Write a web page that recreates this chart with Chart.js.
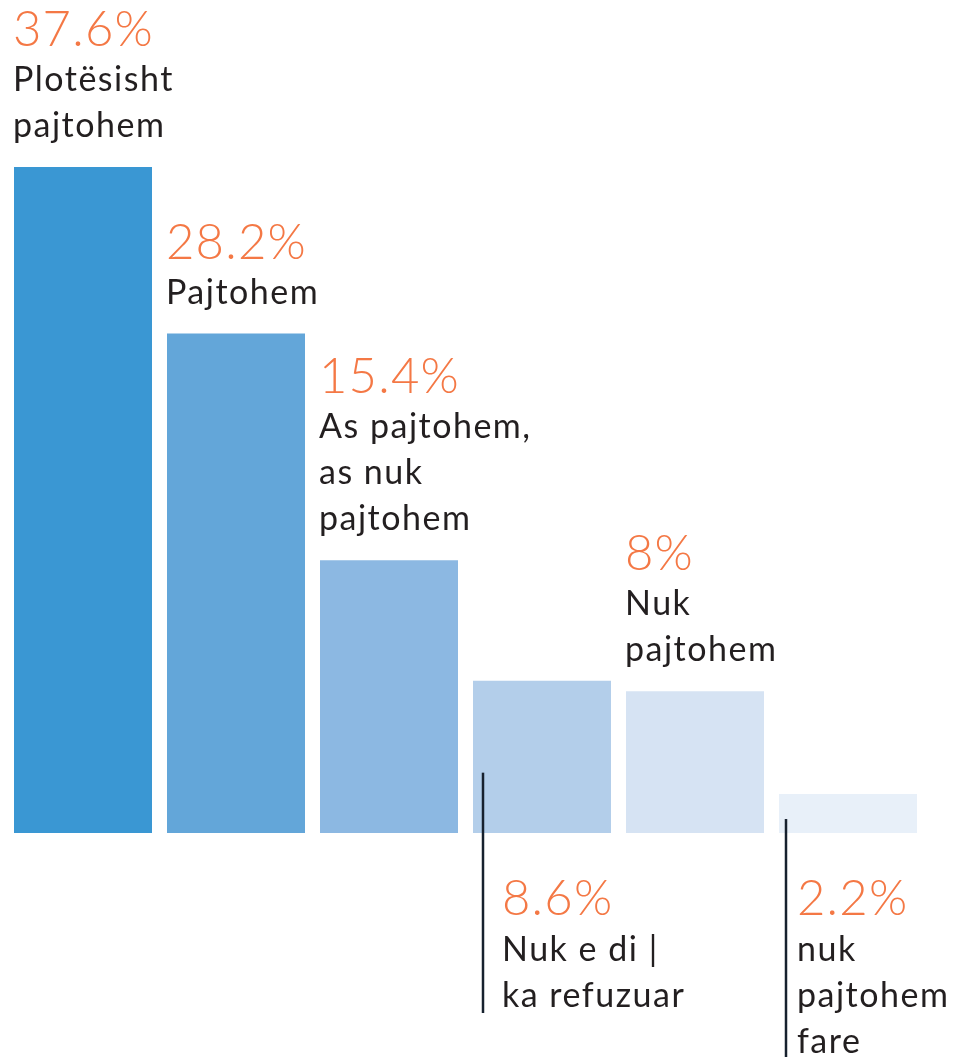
<!DOCTYPE html>
<html>
<head>
<meta charset="utf-8">
<script src="https://cdn.jsdelivr.net/npm/chart.js@4.4.1/dist/chart.umd.min.js"></script>
<style>
  html, body { margin: 0; padding: 0; background: #ffffff; }
  #wrap { width: 966px; height: 1057px; position: relative; }
  canvas { display: block; }
</style>
</head>
<body>
<div id="wrap"><canvas id="c" width="966" height="1057"></canvas></div>
<script>
// ---- data ----
const categories = [
  ["Plotësisht", "pajtohem"],
  ["Pajtohem"],
  ["As pajtohem,", "as nuk", "pajtohem"],
  ["Nuk e di |", "ka refuzuar"],
  ["Nuk", "pajtohem"],
  ["nuk", "pajtohem", "fare"]
];
const values = [37.6, 28.2, 15.4, 8.6, 8, 2.2];
const valueLabels = ["37.6%", "28.2%", "15.4%", "8.6%", "8%", "2.2%"];

// ---- styles ----
const barColors = ["#3a97d3", "#63a6d9", "#8cb8e2", "#b3ceea", "#d6e3f3", "#e8f0f9"];
const orange = "#f47845";
const textColor = "#231f20";
const lineColor = "#17212e";
// label placement: "above" or "below" (below uses a leader line)
const placement = ["above", "above", "above", "below", "above", "below"];
const leader = [null, null, null, { dx: 10, topFromBar: 92, textDx: 19, bottom: 1013 }, null, { dx: 7, topFromBar: 25, textDx: 11, bottom: 1057 }];

const pctFont = '300 49px Lato';
const lblFont = '400 34px Lato';
const lineH = 46;

const labelPlugin = {
  id: 'barLabels',
  afterDatasetsDraw(chart) {
    const ctx = chart.ctx;
    const meta = chart.getDatasetMeta(0);
    const baseY = chart.scales.y.getPixelForValue(0);
    ctx.save();
    ctx.textAlign = 'left';
    ctx.textBaseline = 'alphabetic';
    const setLbl = () => { ctx.fillStyle = textColor; ctx.font = lblFont; ctx.letterSpacing = '1.5px'; };
    const setPct = () => { ctx.fillStyle = orange; ctx.font = pctFont; ctx.letterSpacing = '1.2px'; };
    meta.data.forEach((bar, i) => {
      const left = bar.x - bar.width / 2;
      const lines = categories[i];
      if (placement[i] === 'above') {
        const lastBase = bar.y - 30;
        const firstBase = lastBase - (lines.length - 1) * lineH;
        const pctBase = firstBase - 45;
        setPct();
        ctx.fillText(valueLabels[i], left - 1, pctBase);
        setLbl();
        lines.forEach((t, k) => ctx.fillText(t, left - 1, firstBase + k * lineH));
      } else {
        const L = leader[i];
        const lx = left + L.dx;
        ctx.strokeStyle = lineColor;
        ctx.lineWidth = 2.5;
        ctx.beginPath();
        ctx.moveTo(lx, bar.y + L.topFromBar);
        ctx.lineTo(lx, L.bottom);
        ctx.stroke();
        const tx = lx + L.textDx;
        const pctBase = baseY + 82;
        setPct();
        ctx.fillText(valueLabels[i], tx, pctBase);
        setLbl();
        lines.forEach((t, k) => ctx.fillText(t, tx, pctBase + 46 + k * lineH));
      }
    });
    ctx.restore();
  }
};

new Chart(document.getElementById('c'), {
  type: 'bar',
  data: {
    labels: categories.map(c => c.join(' ')),
    datasets: [{
      data: values,
      backgroundColor: barColors,
      borderWidth: 0,
      barPercentage: 1,
      categoryPercentage: 138 / 153
    }]
  },
  options: {
    responsive: false,
    devicePixelRatio: 1,
    animation: false,
    layout: { padding: { left: 6.5, right: 41.5, top: 124.5, bottom: 224 } },
    plugins: { legend: { display: false }, tooltip: { enabled: false } },
    scales: {
      x: { display: false },
      y: { display: false, min: 0, max: 40 }
    }
  },
  plugins: [labelPlugin]
});
</script>
</body>
</html>
